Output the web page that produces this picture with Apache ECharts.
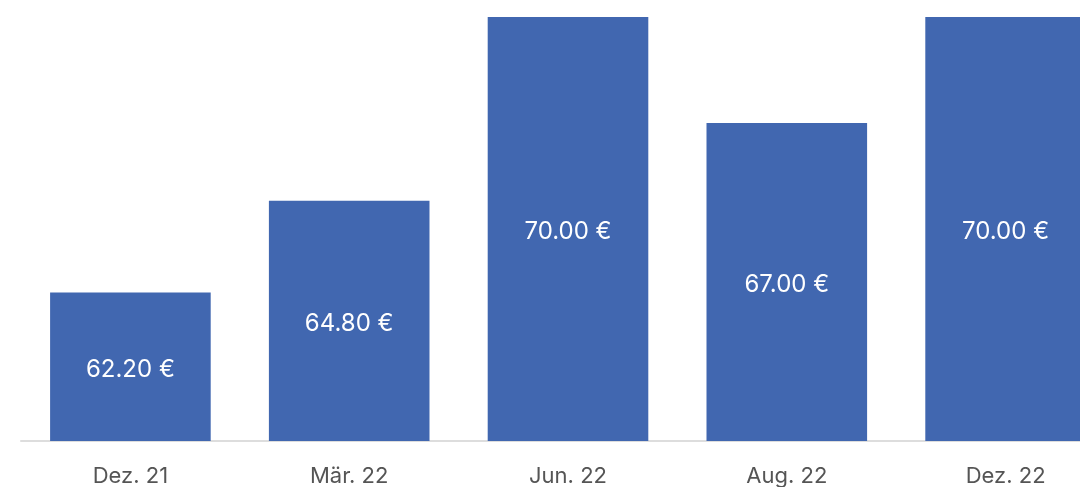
<!DOCTYPE html>
<html>
<head>
<meta charset="utf-8">
<script src="https://cdn.jsdelivr.net/npm/echarts@6/dist/echarts.min.js"></script>
<style>
html,body{margin:0;padding:0;background:#fff;overflow:hidden;width:1080px;height:487px;}
#c{width:1120px;height:487px;}
</style>
</head>
<body>
<div id="c"></div>
<script>
const categories = ["Dez. 21", "Mär. 22", "Jun. 22", "Aug. 22", "Dez. 22"];
const values = [62.20, 64.80, 70.00, 67.00, 70.00];
const yMin = 58;
const yMax = 70;

const chart = echarts.init(document.getElementById('c'), null, {renderer: 'canvas'});
chart.setOption({
  animation: false,
  grid: {left: 21, width: 1094, top: 17, bottom: 45.5, containLabel: false},
  xAxis: {
    type: 'category',
    data: categories,
    axisLine: {show: true, lineStyle: {color: '#dddddd', width: 2}},
    axisTick: {show: false},
    axisLabel: {color: '#555555', fontSize: 22, fontFamily: 'Inter', margin: 24}
  },
  yAxis: {
    type: 'value',
    min: yMin,
    max: yMax,
    show: false,
    splitLine: {show: false}
  },
  series: [{
    type: 'bar',
    data: values,
    barWidth: '73.4%',
    itemStyle: {color: '#4167b0'},
    label: {
      show: true,
      position: 'inside',
      offset: [0, 3],
      color: '#ffffff',
      fontSize: 24,
      fontFamily: 'Inter',
      formatter: p => p.value.toFixed(2) + ' €'
    }
  }]
});
</script>
</body>
</html>
